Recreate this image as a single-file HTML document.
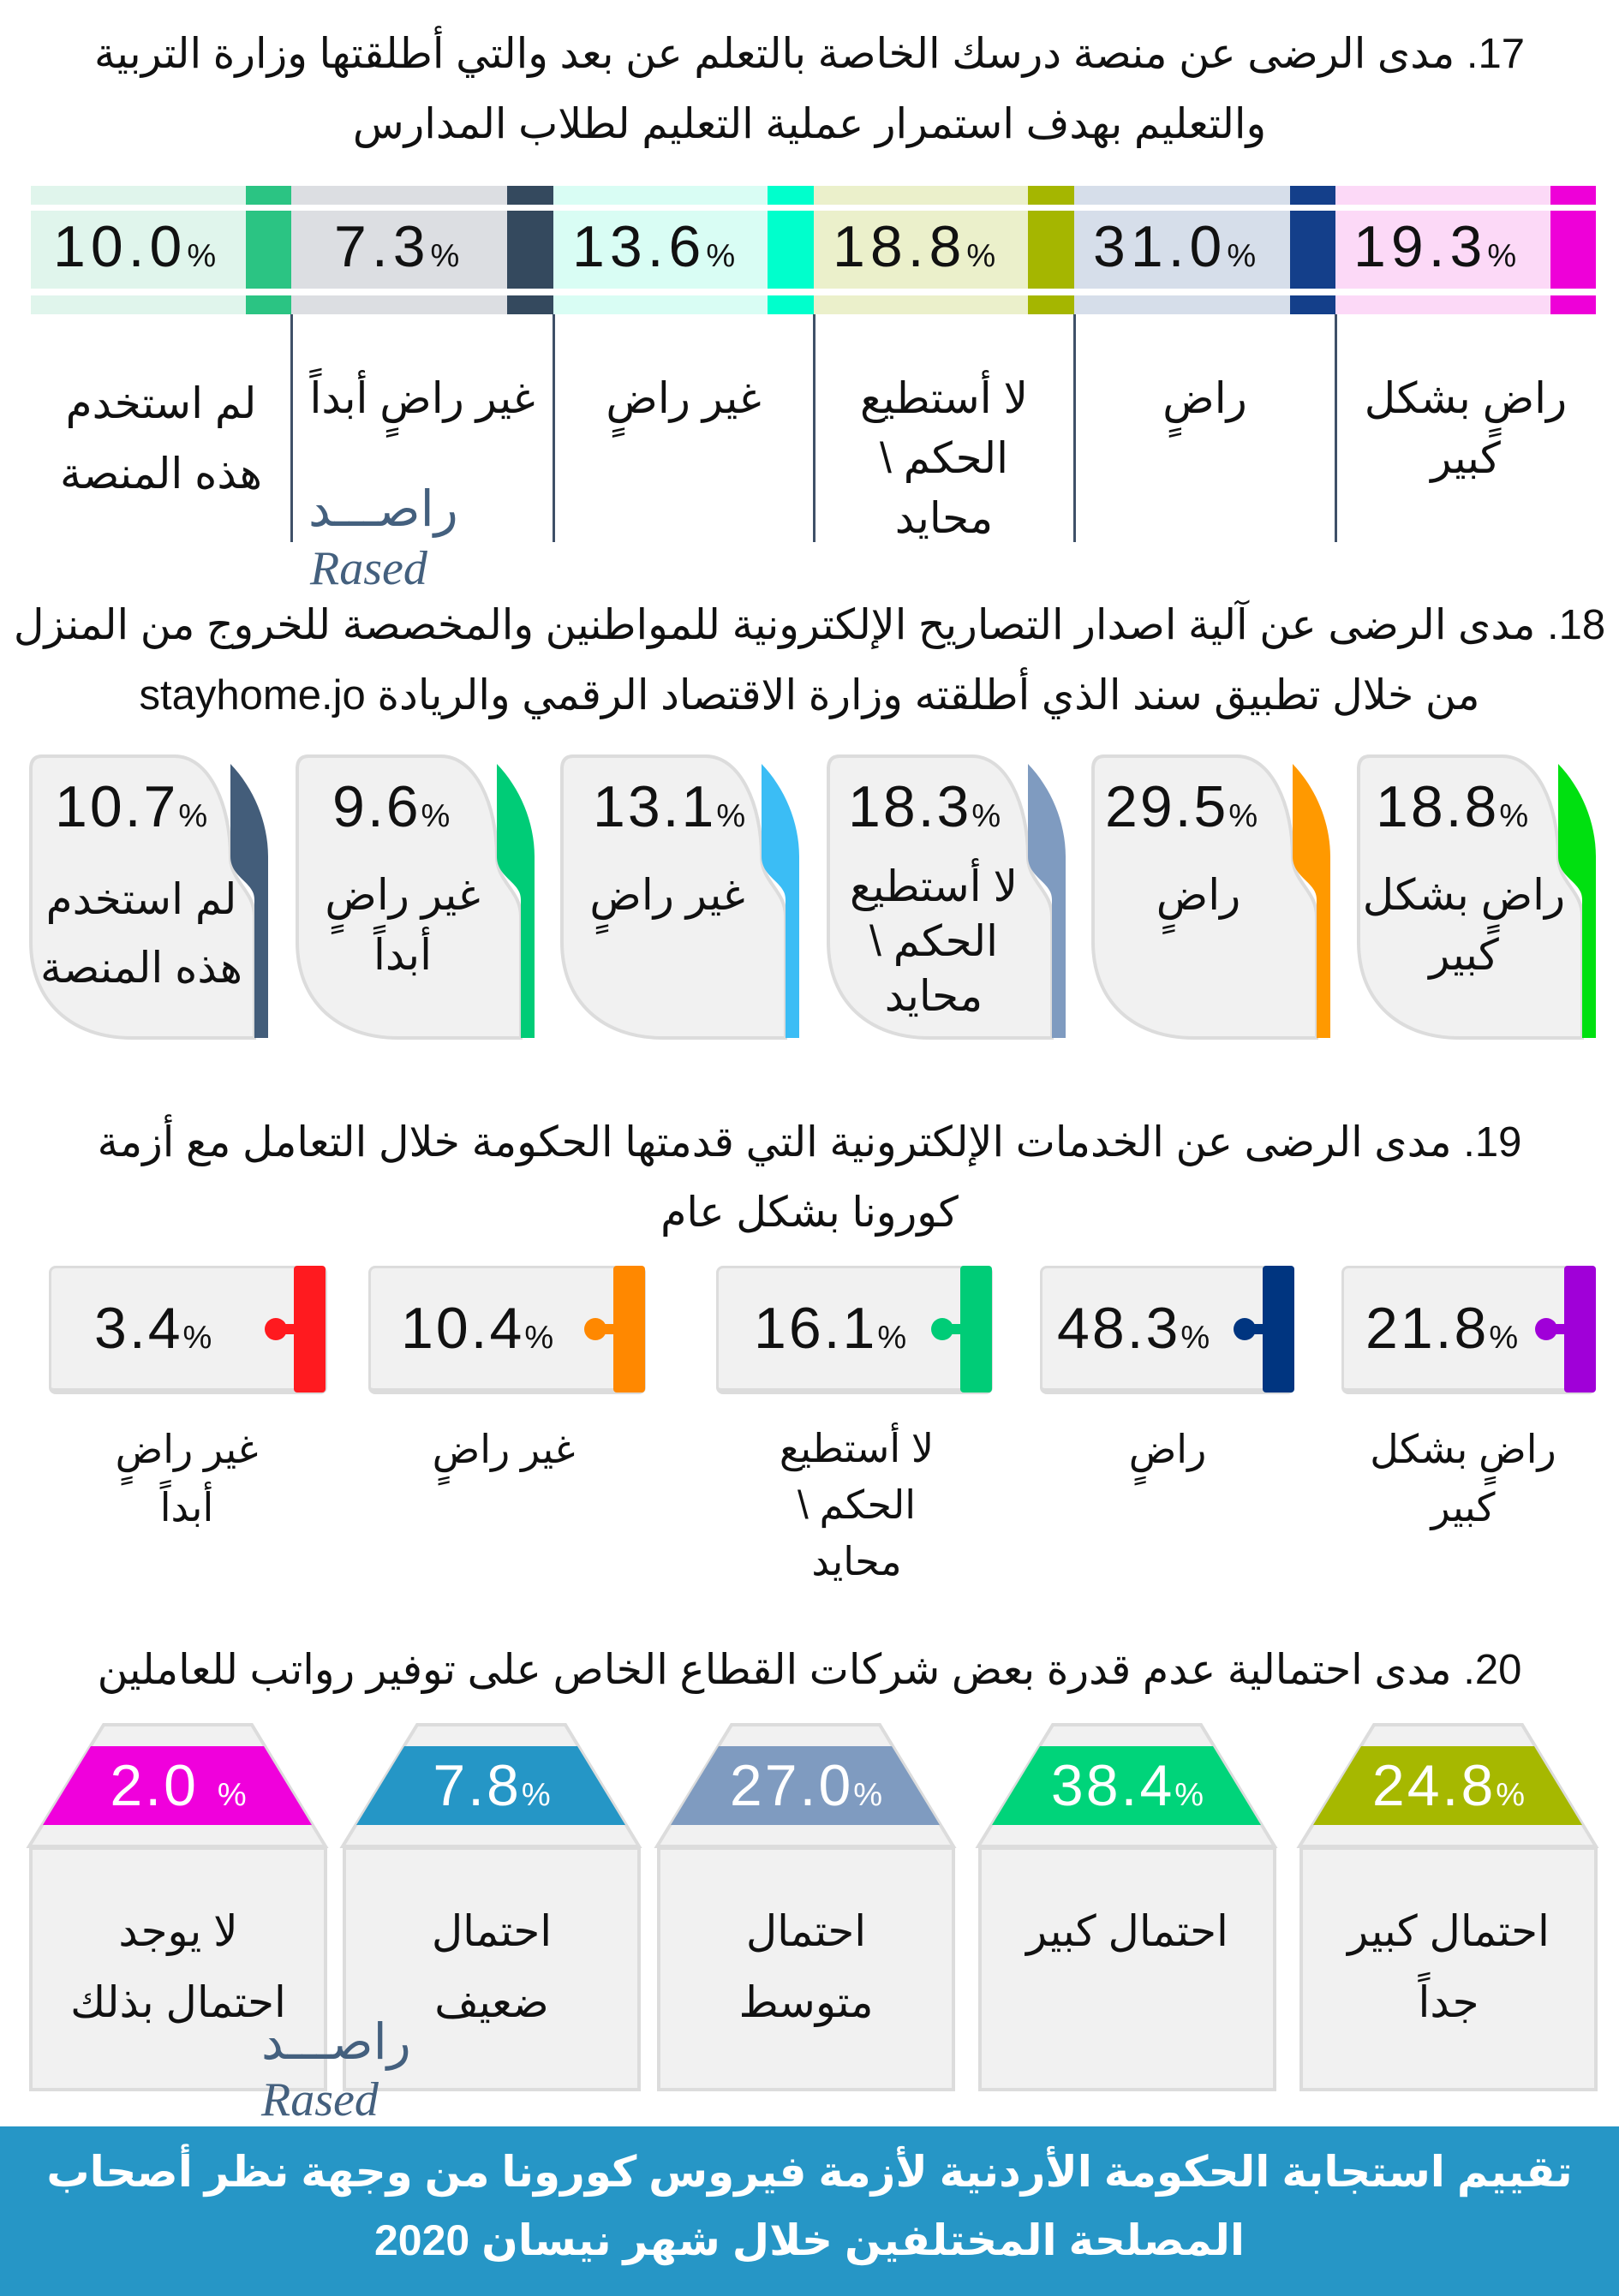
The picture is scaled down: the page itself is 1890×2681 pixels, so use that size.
<!DOCTYPE html>
<html><head><meta charset="utf-8"><style>
*{margin:0;padding:0;box-sizing:border-box}
body{width:1890px;height:2681px;background:#fff;position:relative;overflow:hidden;font-family:"Liberation Sans","DejaVu Sans",sans-serif;color:#111}
.a{position:absolute}
.t{position:absolute;left:0;width:1890px;text-align:center;direction:rtl;font-size:49px;line-height:56px;white-space:nowrap}
.pc{position:absolute;font-size:68px;line-height:70px;white-space:nowrap;letter-spacing:3px;direction:ltr}
.pc small{font-size:38px;letter-spacing:0}
.lb{position:absolute;text-align:center;direction:rtl;font-size:50px;line-height:70px;white-space:nowrap}
.vl{position:absolute;top:367px;height:266px;width:3px;background:#3f5068}
.wm1{position:absolute;color:#44607e;font-size:58px;font-family:"DejaVu Sans",sans-serif;direction:rtl}
.wm2{position:absolute;color:#44607e;font-size:56px;font-style:italic;font-family:"Liberation Serif",serif}
.c19{position:absolute;top:1478px;height:150px;background:#f1f1f1;border:3px solid #dcdcdc;border-bottom-width:7px;border-radius:8px}
</style></head><body>

<div class="t" style="top:35px">17. مدى الرضى عن منصة درسك الخاصة بالتعلم عن بعد والتي أطلقتها وزارة التربية</div>
<div class="t" style="top:117px">والتعليم بهدف استمرار عملية التعليم لطلاب المدارس</div>

<svg class="a" style="left:0;top:0" width="1890" height="400">
<rect x="36" y="217" width="251" height="22" fill="#e0f5ec"/><rect x="287" y="217" width="53" height="22" fill="#2bc483"/>
<rect x="36" y="246" width="251" height="91" fill="#e0f5ec"/><rect x="287" y="246" width="53" height="91" fill="#2bc483"/>
<rect x="36" y="345" width="251" height="22" fill="#e0f5ec"/><rect x="287" y="345" width="53" height="22" fill="#2bc483"/>
<rect x="340" y="217" width="252" height="22" fill="#dcdee2"/><rect x="592" y="217" width="54" height="22" fill="#34495e"/>
<rect x="340" y="246" width="252" height="91" fill="#dcdee2"/><rect x="592" y="246" width="54" height="91" fill="#34495e"/>
<rect x="340" y="345" width="252" height="22" fill="#dcdee2"/><rect x="592" y="345" width="54" height="22" fill="#34495e"/>
<rect x="646" y="217" width="250" height="22" fill="#d9fdf4"/><rect x="896" y="217" width="54" height="22" fill="#00ffcc"/>
<rect x="646" y="246" width="250" height="91" fill="#d9fdf4"/><rect x="896" y="246" width="54" height="91" fill="#00ffcc"/>
<rect x="646" y="345" width="250" height="22" fill="#d9fdf4"/><rect x="896" y="345" width="54" height="22" fill="#00ffcc"/>
<rect x="950" y="217" width="250" height="22" fill="#ebf0cb"/><rect x="1200" y="217" width="54" height="22" fill="#a5b600"/>
<rect x="950" y="246" width="250" height="91" fill="#ebf0cb"/><rect x="1200" y="246" width="54" height="91" fill="#a5b600"/>
<rect x="950" y="345" width="250" height="22" fill="#ebf0cb"/><rect x="1200" y="345" width="54" height="22" fill="#a5b600"/>
<rect x="1254" y="217" width="252" height="22" fill="#d6deea"/><rect x="1506" y="217" width="53" height="22" fill="#143f8a"/>
<rect x="1254" y="246" width="252" height="91" fill="#d6deea"/><rect x="1506" y="246" width="53" height="91" fill="#143f8a"/>
<rect x="1254" y="345" width="252" height="22" fill="#d6deea"/><rect x="1506" y="345" width="53" height="22" fill="#143f8a"/>
<rect x="1559" y="217" width="251" height="22" fill="#fcd9f7"/><rect x="1810" y="217" width="53" height="22" fill="#ee00d8"/>
<rect x="1559" y="246" width="251" height="91" fill="#fcd9f7"/><rect x="1810" y="246" width="53" height="91" fill="#ee00d8"/>
<rect x="1559" y="345" width="251" height="22" fill="#fcd9f7"/><rect x="1810" y="345" width="53" height="22" fill="#ee00d8"/>
</svg>
<div class="pc" style="left:62px;top:253px;letter-spacing:6px">10.0<small>%</small></div>
<div class="pc" style="left:390px;top:253px;letter-spacing:6px">7.3<small>%</small></div>
<div class="pc" style="left:668px;top:253px;letter-spacing:6px">13.6<small>%</small></div>
<div class="pc" style="left:972px;top:253px;letter-spacing:6px">18.8<small>%</small></div>
<div class="pc" style="left:1276px;top:253px;letter-spacing:6px">31.0<small>%</small></div>
<div class="pc" style="left:1580px;top:253px;letter-spacing:6px">19.3<small>%</small></div>
<div class="vl" style="left:339px"></div><div class="vl" style="left:645px"></div><div class="vl" style="left:949px"></div><div class="vl" style="left:1253px"></div><div class="vl" style="left:1558px"></div>
<div class="lb" style="left:36px;width:304px;top:430px;line-height:82px">لم استخدم<br>هذه المنصة</div>
<div class="lb" style="left:340px;width:306px;top:430px">غير راضٍ أبداً</div>
<div class="lb" style="left:646px;width:304px;top:430px">غير راضٍ</div>
<div class="lb" style="left:950px;width:304px;top:430px">لا أستطيع<br>الحكم \<br>محايد</div>
<div class="lb" style="left:1254px;width:305px;top:430px">راضٍ</div>
<div class="lb" style="left:1559px;width:304px;top:430px">راضٍ بشكل<br>كبير</div>
<div class="wm1" style="left:360px;top:560px">راصـــد</div>
<div class="wm2" style="left:362px;top:632px">Rased</div>

<div class="t" style="top:702px">18. مدى الرضى عن آلية اصدار التصاريح الإلكترونية للمواطنين والمخصصة للخروج من المنزل</div>
<div class="t" style="top:784px">من خلال تطبيق سند الذي أطلقته وزارة الاقتصاد الرقمي والريادة stayhome.jo</div>
<svg class="a" style="left:0;top:880px" width="1890" height="340">
<defs><path id="cd" d="M15 3 L170 3 C210 3 235 60 235 120 C235 150 263 160 263 190 L263 332 L120 332 C50 332 2 290 2 220 L2 18 Q2 3 15 3 Z"/>
<path id="cs" d="M235 12 C262 40 279 80 279 120 L279 332 L263 332 L263 170 C263 150 235 145 235 120 Z"/></defs>
<g transform="translate(34,0)"><use href="#cd" fill="#f1f1f1" stroke="#dcdcdc" stroke-width="4"/><use href="#cs" fill="#435d7a"/></g>
<g transform="translate(345,0)"><use href="#cd" fill="#f1f1f1" stroke="#dcdcdc" stroke-width="4"/><use href="#cs" fill="#00cc77"/></g>
<g transform="translate(654,0)"><use href="#cd" fill="#f1f1f1" stroke="#dcdcdc" stroke-width="4"/><use href="#cs" fill="#3bbdf5"/></g>
<g transform="translate(965,0)"><use href="#cd" fill="#f1f1f1" stroke="#dcdcdc" stroke-width="4"/><use href="#cs" fill="#7f9bc0"/></g>
<g transform="translate(1274,0)"><use href="#cd" fill="#f1f1f1" stroke="#dcdcdc" stroke-width="4"/><use href="#cs" fill="#ff9900"/></g>
<g transform="translate(1584,0)"><use href="#cd" fill="#f1f1f1" stroke="#dcdcdc" stroke-width="4"/><use href="#cs" fill="#00e010"/></g>
</svg>
<div class="pc" style="left:64px;top:907px">10.7<small>%</small></div>
<div class="pc" style="left:388px;top:907px">9.6<small>%</small></div>
<div class="pc" style="left:692px;top:907px">13.1<small>%</small></div>
<div class="pc" style="left:990px;top:907px">18.3<small>%</small></div>
<div class="pc" style="left:1290px;top:907px">29.5<small>%</small></div>
<div class="pc" style="left:1606px;top:907px">18.8<small>%</small></div>
<div class="lb" style="left:34px;width:262px;top:1010px;line-height:80px">لم استخدم<br>هذه المنصة</div>
<div class="lb" style="left:345px;width:250px;top:1010px">غير راضٍ<br>أبداً</div>
<div class="lb" style="left:654px;width:250px;top:1010px">غير راضٍ</div>
<div class="lb" style="left:965px;width:250px;top:1003px;line-height:64px">لا أستطيع<br>الحكم \<br>محايد</div>
<div class="lb" style="left:1274px;width:250px;top:1010px">راضٍ</div>
<div class="lb" style="left:1584px;width:250px;top:1010px">راضٍ بشكل<br>كبير</div>

<div class="t" style="top:1306px">19. مدى الرضى عن الخدمات الإلكترونية التي قدمتها الحكومة خلال التعامل مع أزمة</div>
<div class="t" style="top:1388px">كورونا بشكل عام</div>
<div class="c19" style="left:57px;width:325px"></div>
<div class="c19" style="left:430px;width:324px"></div>
<div class="c19" style="left:836px;width:323px"></div>
<div class="c19" style="left:1214px;width:297px"></div>
<div class="c19" style="left:1566px;width:297px"></div>
<svg class="a" style="left:0;top:1470px" width="1890" height="170">
<g fill="#ff1a1f"><rect x="343" y="8" width="37" height="148" rx="4"/><circle cx="322" cy="82" r="13"/><rect x="322" y="76" width="25" height="12"/></g>
<g fill="#ff8800"><rect x="716" y="8" width="37" height="148" rx="4"/><circle cx="695" cy="82" r="13"/><rect x="695" y="76" width="25" height="12"/></g>
<g fill="#00cc77"><rect x="1121" y="8" width="37" height="148" rx="4"/><circle cx="1100" cy="82" r="13"/><rect x="1100" y="76" width="25" height="12"/></g>
<g fill="#003580"><rect x="1474" y="8" width="37" height="148" rx="4"/><circle cx="1453" cy="82" r="13"/><rect x="1453" y="76" width="25" height="12"/></g>
<g fill="#a000d8"><rect x="1826" y="8" width="37" height="148" rx="4"/><circle cx="1805" cy="82" r="13"/><rect x="1805" y="76" width="25" height="12"/></g>
</svg>
<div class="pc" style="left:110px;top:1516px">3.4<small>%</small></div>
<div class="pc" style="left:468px;top:1516px">10.4<small>%</small></div>
<div class="pc" style="left:880px;top:1516px">16.1<small>%</small></div>
<div class="pc" style="left:1234px;top:1516px">48.3<small>%</small></div>
<div class="pc" style="left:1594px;top:1516px">21.8<small>%</small></div>
<div class="lb" style="left:118px;width:200px;top:1658px;font-size:46px;line-height:68px">غير راضٍ<br>أبداً</div>
<div class="lb" style="left:488px;width:200px;top:1658px;font-size:46px;line-height:68px">غير راضٍ</div>
<div class="lb" style="left:880px;width:240px;top:1658px;font-size:46px;line-height:66px">لا أستطيع<br>الحكم \<br>محايد</div>
<div class="lb" style="left:1263px;width:200px;top:1658px;font-size:46px;line-height:68px">راضٍ</div>
<div class="lb" style="left:1588px;width:240px;top:1658px;font-size:46px;line-height:68px">راضٍ بشكل<br>كبير</div>

<div class="t" style="top:1922px">20. مدى احتمالية عدم قدرة بعض شركات القطاع الخاص على توفير رواتب للعاملين</div>
<svg class="a" style="left:0;top:2000px" width="1890" height="450">
<defs><g id="tp"><path d="M87 14 L260 14 L346 156 L0 156 Z" fill="#f1f1f1" stroke="#dcdcdc" stroke-width="4"/>
<rect x="2" y="158" width="344" height="282" fill="#f1f1f1" stroke="#dcdcdc" stroke-width="4"/></g>
<path id="bd" d="M72 39 L274 39 L330 131 L16 131 Z"/></defs>
<g transform="translate(34,0)"><use href="#tp"/><use href="#bd" fill="#f000dc"/></g>
<g transform="translate(400,0)"><use href="#tp"/><use href="#bd" fill="#2596c6"/></g>
<g transform="translate(767,0)"><use href="#tp"/><use href="#bd" fill="#7f9bc0"/></g>
<g transform="translate(1142,0)"><use href="#tp"/><use href="#bd" fill="#00d47a"/></g>
<g transform="translate(1517,0)"><use href="#tp"/><use href="#bd" fill="#a6b800"/></g>
</svg>
<div class="pc" style="left:34px;width:348px;text-align:center;top:2050px;color:#fff">2.0 <small>%</small></div>
<div class="pc" style="left:400px;width:348px;text-align:center;top:2050px;color:#fff">7.8<small>%</small></div>
<div class="pc" style="left:767px;width:348px;text-align:center;top:2050px;color:#fff">27.0<small>%</small></div>
<div class="pc" style="left:1142px;width:348px;text-align:center;top:2050px;color:#fff">38.4<small>%</small></div>
<div class="pc" style="left:1517px;width:348px;text-align:center;top:2050px;color:#fff">24.8<small>%</small></div>
<div class="lb" style="left:34px;width:348px;top:2214px;line-height:83px">لا يوجد<br>احتمال بذلك</div>
<div class="lb" style="left:400px;width:348px;top:2214px;line-height:83px">احتمال<br>ضعيف</div>
<div class="lb" style="left:767px;width:348px;top:2214px;line-height:83px">احتمال<br>متوسط</div>
<div class="lb" style="left:1142px;width:348px;top:2214px;line-height:83px">احتمال كبير</div>
<div class="lb" style="left:1517px;width:348px;top:2214px;line-height:83px">احتمال كبير<br>جداً</div>
<div class="wm1" style="left:305px;top:2350px">راصـــد</div>
<div class="wm2" style="left:305px;top:2420px">Rased</div>

<div class="a" style="left:0;top:2483px;width:1890px;height:198px;background:#2696c6"></div>
<div class="t" style="top:2505px;color:#fff;font-size:50px;line-height:62px;font-weight:bold">تقييم استجابة الحكومة الأردنية لأزمة فيروس كورونا من وجهة نظر أصحاب</div>
<div class="t" style="top:2585px;color:#fff;font-size:50px;line-height:62px;font-weight:bold">المصلحة المختلفين خلال شهر نيسان 2020</div>
</body></html>
